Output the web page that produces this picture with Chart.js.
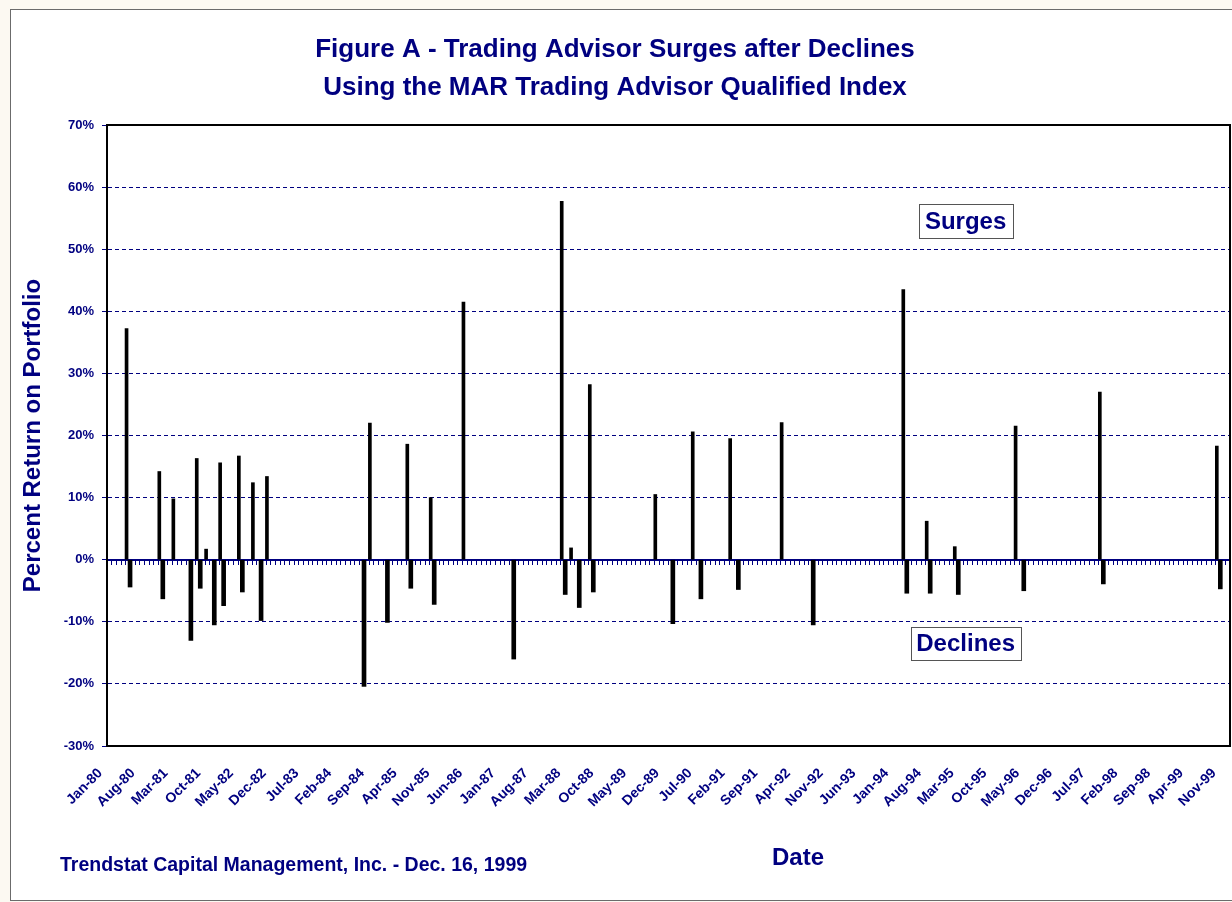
<!DOCTYPE html>
<html>
<head>
<meta charset="utf-8">
<title>Figure A - Trading Advisor Surges after Declines</title>
<script src="https://cdn.jsdelivr.net/npm/chart.js@4.4.1/dist/chart.umd.min.js"></script>
<style>
  html, body { margin: 0; padding: 0; overflow: hidden; background: #fcf9f2; }
  #frame { position: absolute; left: 10px; top: 9px; width: 1240px; height: 890px; border: 1px solid #6b6b6b; background: #fff; }
  #wrap { position: absolute; left: 0; top: 0; width: 1232px; height: 902px; }
</style>
</head>
<body>
<div id="frame"></div>
<div id="wrap"><canvas id="chart"></canvas></div>
<script>
// Monthly categories Jan-80 .. Dec-99
const monthNames = ['Jan', 'Feb', 'Mar', 'Apr', 'May', 'Jun', 'Jul', 'Aug', 'Sep', 'Oct', 'Nov', 'Dec'];
const firstYear = 80;
const monthCount = 240;

// Surges (percent return)
const surgeMonths = ['May-80', 'Dec-80', 'Mar-81', 'Aug-81', 'Oct-81', 'Jan-82', 'May-82', 'Aug-82', 'Nov-82',
    'Sep-84', 'May-85', 'Oct-85', 'May-86', 'Feb-88', 'Apr-88', 'Aug-88', 'Oct-89', 'Jun-90', 'Feb-91',
    'Jan-92', 'Mar-94', 'Aug-94', 'Feb-95', 'Mar-96', 'Sep-97', 'Oct-99'];
const surgeValues = [37.2, 14.2, 9.8, 16.3, 1.7, 15.6, 16.7, 12.4, 13.4,
    22.0, 18.6, 10.0, 41.5, 57.7, 1.9, 28.2, 10.5, 20.6, 19.5,
    22.1, 43.5, 6.2, 2.1, 21.5, 27.0, 18.3];

// Declines (percent return)
const declineMonths = ['May-80', 'Dec-80', 'Jun-81', 'Aug-81', 'Nov-81', 'Jan-82', 'May-82', 'Sep-82',
    'Jul-84', 'Dec-84', 'May-85', 'Oct-85', 'Mar-87', 'Feb-88', 'May-88', 'Aug-88', 'Jan-90', 'Jul-90',
    'Mar-91', 'Jul-92', 'Mar-94', 'Aug-94', 'Feb-95', 'Apr-96', 'Sep-97', 'Oct-99'];
const declineValues = [-4.4, -6.3, -13.0, -4.6, -10.5, -7.4, -5.2, -9.8,
    -20.4, -10.1, -4.6, -7.2, -16.0, -5.6, -7.7, -5.2, -10.3, -6.3,
    -4.8, -10.5, -5.4, -5.4, -5.6, -5.0, -3.9, -4.7];

// Date labels shown under the axis
const shownTicks = ['Jan-80', 'Aug-80', 'Mar-81', 'Oct-81', 'May-82', 'Dec-82', 'Jul-83', 'Feb-84', 'Sep-84',
    'Apr-85', 'Nov-85', 'Jun-86', 'Jan-87', 'Aug-87', 'Mar-88', 'Oct-88', 'May-89', 'Dec-89', 'Jul-90',
    'Feb-91', 'Sep-91', 'Apr-92', 'Nov-92', 'Jun-93', 'Jan-94', 'Aug-94', 'Mar-95', 'Oct-95', 'May-96',
    'Dec-96', 'Jul-97', 'Feb-98', 'Sep-98', 'Apr-99', 'Nov-99'];

const NAVY = '#000080';
const FONT = "'Liberation Sans', Arial, Helvetica, sans-serif";

const labels = [];
for (let i = 0; i < monthCount; i++) {
    labels.push(monthNames[i % 12] + '-' + (firstYear + Math.floor(i / 12)));
}

function toSeries(months, values) {
    return labels.map(function (lbl) {
        const k = months.indexOf(lbl);
        return k < 0 ? null : values[k];
    });
}

// boxed notes, frame, footer text
const extras = {
    id: 'extras',
    afterDraw(chart) {
        const ctx = chart.ctx;
        const area = chart.chartArea;
        const xs = chart.scales.x;
        const ys = chart.scales.y;

        ctx.save();
        ctx.strokeStyle = '#000';
        ctx.lineWidth = 2;
        ctx.strokeRect(area.left, area.top, area.right - area.left, area.bottom - area.top);

        const notes = [
            { text: 'Surges', month: 'Apr-95', value: 54.5, w: 94, h: 34 },
            { text: 'Declines', month: 'Apr-95', value: -13.5, w: 110, h: 33 }
        ];
        ctx.font = 'bold 24px ' + FONT;
        ctx.textAlign = 'center';
        ctx.textBaseline = 'middle';
        notes.forEach(function (n) {
            const cx = xs.getPixelForValue(labels.indexOf(n.month));
            const cy = ys.getPixelForValue(n.value);
            ctx.fillStyle = '#fff';
            ctx.fillRect(cx - n.w / 2, cy - n.h / 2, n.w, n.h);
            ctx.strokeStyle = '#555';
            ctx.lineWidth = 1;
            ctx.strokeRect(Math.round(cx - n.w / 2) + 0.5, Math.round(cy - n.h / 2) + 0.5, n.w, n.h);
            ctx.fillStyle = NAVY;
            ctx.fillText(n.text, cx, cy + 1);
        });

        ctx.font = 'bold 24px ' + FONT;
        ctx.fillText('Date', 798, 858);

        ctx.font = 'bold 19.5px ' + FONT;
        ctx.textAlign = 'left';
        ctx.fillText('Trendstat Capital Management, Inc. - Dec. 16, 1999', 60, 866);
        ctx.restore();
    }
};

Chart.defaults.font.family = FONT;

new Chart(document.getElementById('chart'), {
    type: 'bar',
    data: {
        labels: labels,
        datasets: [
            {
                label: 'Surges',
                data: toSeries(surgeMonths, surgeValues),
                backgroundColor: '#000',
                barThickness: 3
            },
            {
                label: 'Declines',
                data: toSeries(declineMonths, declineValues),
                backgroundColor: '#000',
                barThickness: 4
            }
        ]
    },
    options: {
        responsive: true,
        maintainAspectRatio: false,
        animation: false,
        layout: { padding: { left: 0, right: 2, top: 0, bottom: 0 } },
        scales: {
            x: {
                type: 'category',
                position: 'bottom',
                offset: true,
                grid: { display: false, drawTicks: false },
                border: { display: true, color: '#000', width: 2 },
                ticks: {
                    autoSkip: false,
                    maxRotation: 45,
                    minRotation: 45,
                    padding: 19,
                    labelOffset: -9,
                    color: NAVY,
                    font: { size: 14, weight: 'bold' },
                    callback: function (value) {
                        const lbl = this.getLabelForValue(value);
                        return shownTicks.includes(lbl) ? lbl : '';
                    }
                },
                afterFit: function (scale) {
                    scale.height = 156;
                    scale.paddingLeft = 0;
                    scale.paddingRight = 0;
                }
            },
            x2: {
                type: 'category',
                axis: 'x',
                position: { y: 0 },
                offset: true,
                z: 1,
                grid: { offset: true, drawOnChartArea: false, drawTicks: true, tickLength: 4, color: NAVY },
                border: { display: true, color: NAVY, width: 2 },
                ticks: { display: false }
            },
            y: {
                min: -30,
                max: 70,
                grid: { color: NAVY, lineWidth: 1, drawTicks: true, tickLength: 5 },
                border: { display: true, color: '#000', width: 2, dash: [4, 3] },
                ticks: {
                    stepSize: 10,
                    padding: 8,
                    color: NAVY,
                    font: { size: 13, weight: 'bold' },
                    callback: function (v) { return v + '%'; }
                },
                title: {
                    display: true,
                    text: 'Percent Return on Portfolio',
                    color: NAVY,
                    font: { size: 24, weight: 'bold', lineHeight: 1.2 },
                    padding: { top: 19, bottom: 0 }
                },
                afterFit: function (scale) { scale.width = 107; }
            }
        },
        plugins: {
            legend: { display: false },
            tooltip: { enabled: false },
            title: {
                display: true,
                text: ['Figure A - Trading Advisor Surges after Declines', 'Using the MAR Trading Advisor Qualified Index'],
                color: NAVY,
                font: { size: 26, weight: 'bold', lineHeight: '38px' },
                padding: { top: 31, bottom: 18 }
            }
        }
    },
    plugins: [extras]
});
</script>
</body>
</html>
